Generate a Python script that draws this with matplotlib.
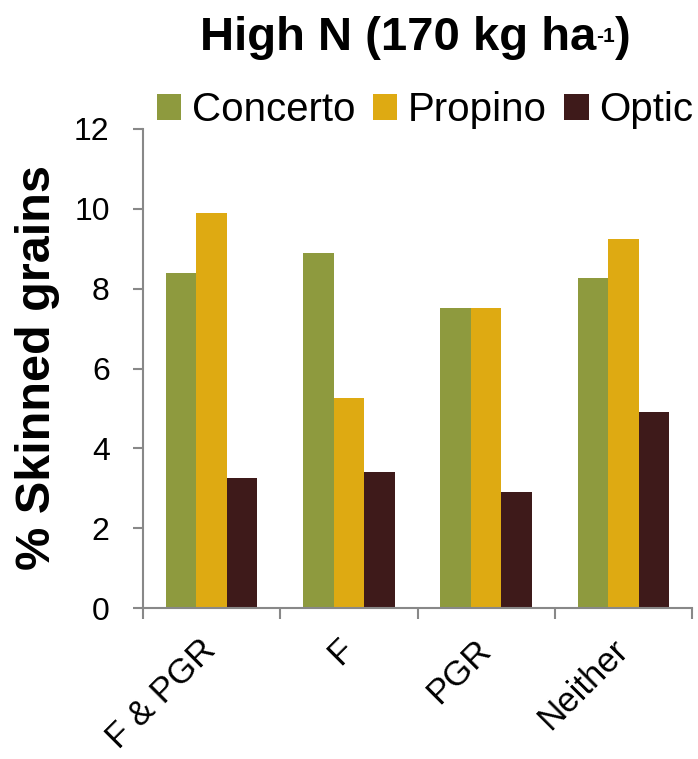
import matplotlib
matplotlib.use("Agg")
import matplotlib.pyplot as plt
import numpy as np

plt.rcParams['font.family'] = ['Liberation Sans', 'DejaVu Sans']

categories = ["F & PGR", "F", "PGR", "Neither"]
series_names = ["Concerto", "Propino", "Optic"]
concerto = [8.4, 8.9, 7.52, 8.27]
propino = [9.9, 5.25, 7.52, 9.25]
optic = [3.25, 3.4, 2.9, 4.9]
colors = ["#8E9A3E", "#DEAA12", "#3E1A1A"]
yticks = [0, 2, 4, 6, 8, 10, 12]

W, H = 698, 759
fig = plt.figure(figsize=(W / 100, H / 100), dpi=100)
ax = fig.add_axes([143 / W, 1 - 608 / H, (692 - 143) / W, (608 - 129) / H])

x = np.arange(len(categories))
w = 0.222
for i, (vals, name) in enumerate(zip([concerto, propino, optic], series_names)):
    ax.bar(x + (i - 1) * w, vals, w, color=colors[i], label=name)

ax.set_xlim(-0.5, len(categories) - 0.5)
ax.set_ylim(0, 12)
ax.set_yticks(yticks)
ax.set_xticks(np.arange(len(categories) + 1) - 0.5, minor=False)
ax.set_xticklabels([])
# labels sit slightly left of the group centre, as in the original
ax.set_xticks(x - 0.09, minor=True)
ax.set_xticklabels(categories, minor=True, rotation=45, ha='right', rotation_mode='anchor', fontsize=25)
ax.tick_params(axis='x', which='minor', length=0, pad=18)
ax.tick_params(axis='x', which='major', length=8, color='#888888', width=1.5)
ax.tick_params(axis='y', length=7, color='#888888', width=1.5, labelsize=23, pad=17)

for s in ['top', 'right']:
    ax.spines[s].set_visible(False)
for s in ['left', 'bottom']:
    ax.spines[s].set_color('#888888')
    ax.spines[s].set_linewidth(1.5)

fig.text(38 / W, 1 - 368 / H, "% Skinned grains", fontsize=35, fontweight='bold',
         rotation=90, ha='center', va='center')

# Title built from pieces so the superscript looks like the original
fig.canvas.draw()
r = fig.canvas.get_renderer()
y_b = 1 - 50 / H
t1 = fig.text(0, y_b, "High N (170 kg ha", fontsize=34, fontweight='bold', ha='left', va='baseline')
w1 = t1.get_window_extent(r).width
t2 = fig.text(0, 1 - 42 / H, "-1", fontsize=15, fontweight='bold', ha='left', va='baseline')
w2 = t2.get_window_extent(r).width
t3 = fig.text(0, y_b, ")", fontsize=34, fontweight='bold', ha='left', va='baseline')
w3 = t3.get_window_extent(r).width
total = w1 + w2 + w3
x0 = 415 - total / 2
t1.set_x(x0 / W)
t2.set_x((x0 + w1) / W)
t3.set_x((x0 + w1 + w2) / W)

leg = fig.legend(*ax.get_legend_handles_labels(), loc='center', bbox_to_anchor=(425 / W, 1 - 110 / H),
                 ncol=3, frameon=False, fontsize=29, handlelength=0.6, handleheight=0.6,
                 handletextpad=0.25, columnspacing=0.45, borderaxespad=0, borderpad=0)

fig.savefig("out.png", dpi=100)
